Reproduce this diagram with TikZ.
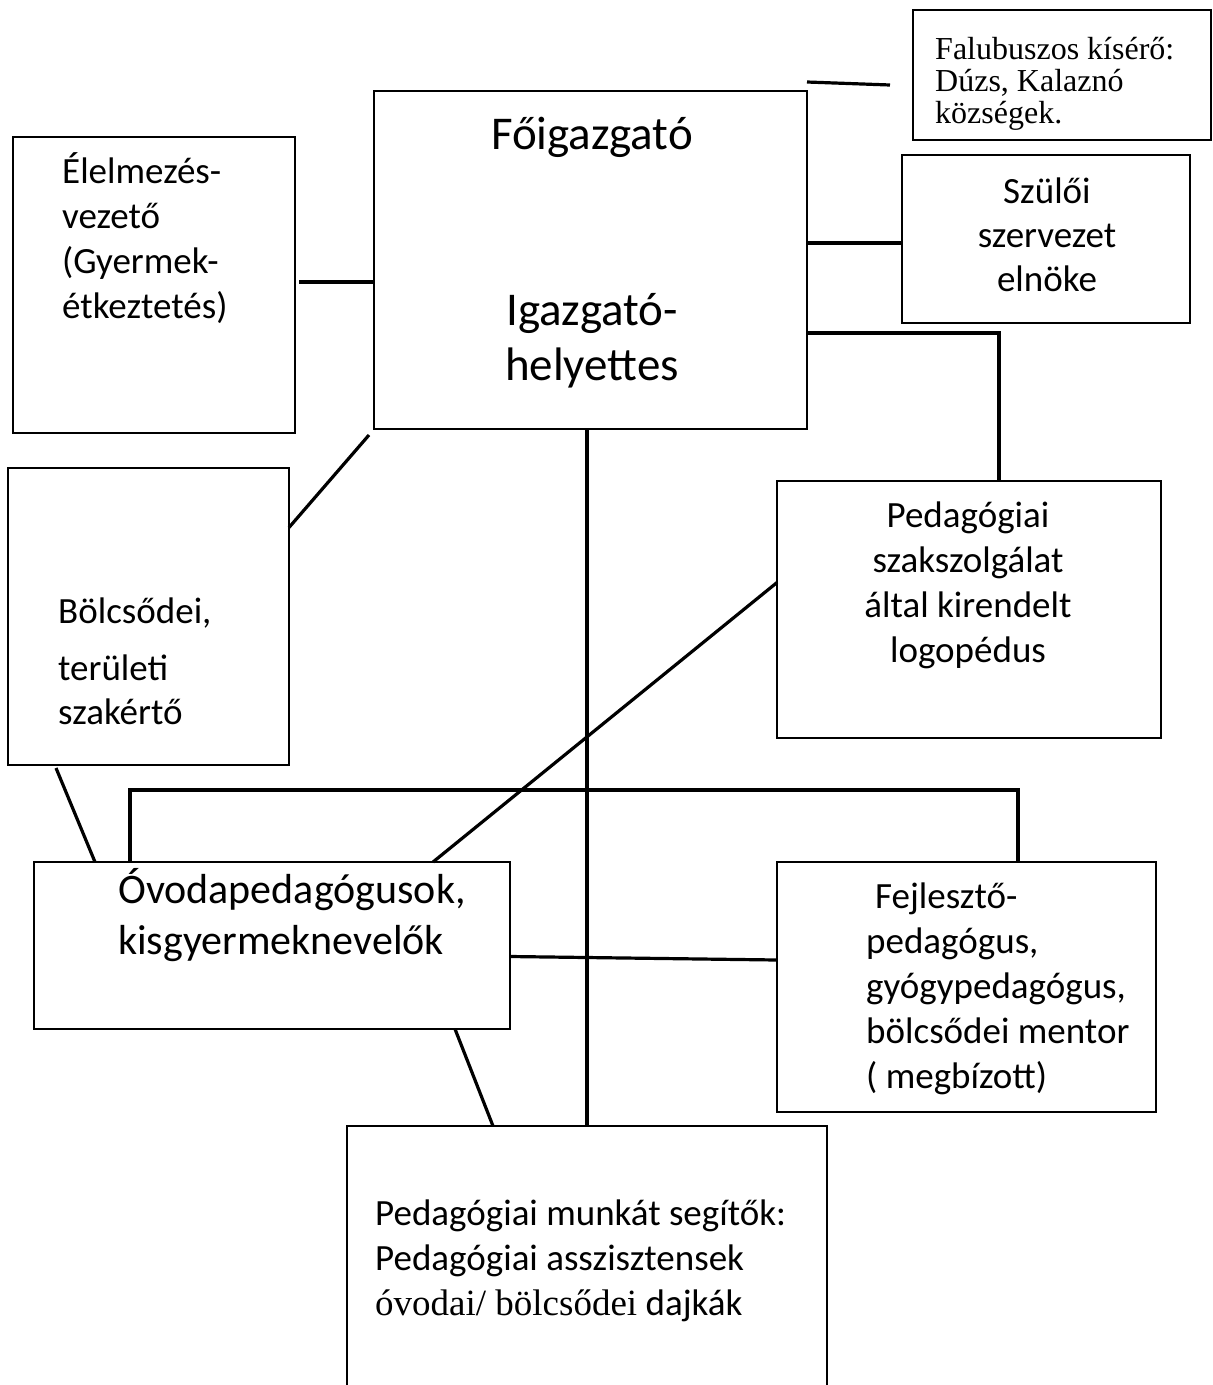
\documentclass[tikz,border=0pt]{standalone}
\usepackage{fontspec}
\setmainfont{Carlito}
\newfontfamily\tnr{Liberation Serif}
\usetikzlibrary{calc}
\begin{document}
\begin{tikzpicture}[x=1pt,y=-1pt,
  box/.style={draw, line width=1.3pt, inner sep=0pt, outer sep=0pt, anchor=north west},
  conn/.style={line width=3.2pt},
  txt/.style={inner sep=0pt, anchor=base west, align=left},
  ctxt/.style={inner sep=0pt, anchor=base, align=center}]
\useasboundingbox (0,0) rectangle (1213,1385);

% boxes
\node[box, line width=1.5pt, minimum width=298pt, minimum height=130pt] (fal) at (913,10) {};
\node[box, minimum width=433pt, minimum height=338pt] (fo) at (374,91) {};
\node[box, minimum width=282pt, minimum height=296pt] (el) at (13,137) {};
\node[box, minimum width=288pt, minimum height=168pt] (sz) at (902,155) {};
\node[box, minimum width=281pt, minimum height=297pt] (bo) at (8,468) {};
\node[box, minimum width=384pt, minimum height=257pt] (lg) at (777,481) {};
\node[box, minimum width=476pt, minimum height=167pt] (ov) at (34,862) {};
\node[box, minimum width=379pt, minimum height=250pt] (fe) at (777,862) {};
\node[box, draw=none, minimum width=480pt, minimum height=259pt] (pm) at (347,1126) {};
\draw[line width=1.3pt] (pm.south west) -- (pm.north west) -- (pm.north east) -- (pm.south east);

% texts (anchored at the baseline of the last line)
\node[txt, font=\tnr\fontsize{32}{32}\selectfont] (falt) at (935,123) {Falubuszos kísérő:\\Dúzs, Kalaznó\\községek.};
\node[ctxt, font=\fontsize{47}{55}\selectfont] (fot) at (592,380) {Főigazgató\\[121pt]Igazgató-\\helyettes};
\node[txt, font=\fontsize{37}{45}\selectfont] (elt) at (62,318) {Élelmezés-\\vezető\\(Gyermek-\\étkeztetés)};
\node[ctxt, font=\fontsize{37}{44}\selectfont] (szt) at (1047,291) {Szülői\\szervezet\\elnöke};
\node[txt, font=\fontsize{37}{44}\selectfont] (bot) at (58,724) {Bölcsődei,\\[13pt]területi\\szakértő};
\node[ctxt, font=\fontsize{37}{45}\selectfont] (lgt) at (968,662) {Pedagógiai\\szakszolgálat\\által kirendelt\\logopédus};
\node[txt, font=\fontsize{42}{51}\selectfont] (ovt) at (118,954) {Óvodapedagógusok,\\kisgyermeknevelők};
\node[txt, font=\fontsize{37}{45}\selectfont] (fet) at (866,1088) {\hspace*{9pt}Fejlesztő-\\pedagógus,\\gyógypedagógus,\\bölcsődei mentor\\( megbízott)};
\node[txt, font=\fontsize{37}{45}\selectfont] (pmt) at (375,1315) {Pedagógiai munkát segítők:\\Pedagógiai asszisztensek\\{\tnr óvodai/ bölcsődei} dajkák};

% connectors
\coordinate (c1) at ([shift={(4pt,3pt)}]el.east);
\coordinate (c2) at ([yshift=-4pt]sz.west);
\draw[conn] ([yshift=9pt]fo.north east) -- ([shift={(-23pt,-10pt)}]fal.west);
\draw[conn] (c1) -- (fo.west |- c1);
\draw[conn] (fo.east |- c2) -- (c2);
\draw[conn] ([yshift=-73pt]fo.east) -| ([xshift=30pt]lg.north);
\draw[conn] ([shift={(-5pt,-6pt)}]fo.south west) -- ([yshift=89pt]bo.east);
\draw[conn] (pm.north |- fo.south) -- (pm.north);
\draw[conn] ([xshift=96pt]ov.north west) |- ([shift={(241pt,72pt)}]fe.north west) -- ([xshift=241pt]fe.north west);
\draw[conn] ([yshift=27pt]lg.west) -- ([xshift=161pt]ov.north);
\draw[conn] ([shift={(48pt,-3pt)}]bo.south west) -- ([xshift=61pt]ov.north west);
\draw[conn] ([yshift=-11pt]ov.east) -- ([yshift=27pt]fe.west);
\draw[conn] ([xshift=421pt]ov.south west) -- ([xshift=146pt]pm.north west);
\end{tikzpicture}
\end{document}
